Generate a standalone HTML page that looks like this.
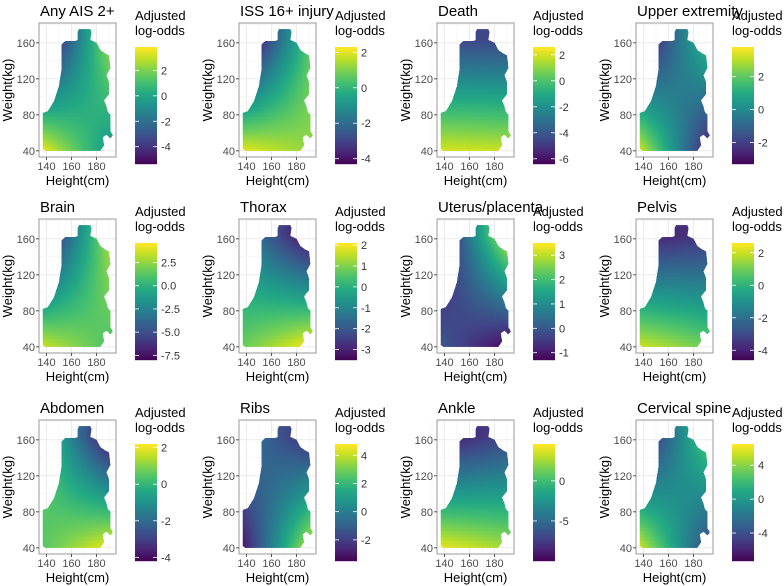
<!DOCTYPE html>
<html><head><meta charset="utf-8"><style>
html,body{margin:0;padding:0;background:#fff;}
svg{display:block;font-family:"Liberation Sans",sans-serif;}
</style></head><body>
<svg id="fig" width="784" height="586" viewBox="0 0 784 586" xmlns="http://www.w3.org/2000/svg"></svg>
<script>
const titles = ["Any AIS 2+","ISS 16+ injury","Death","Upper extremity","Brain","Thorax","Uterus/placenta","Pelvis","Abdomen","Ribs","Ankle","Cervical spine"];
const cbMin = [-5.36,-4.3,-6.4,-3.3,-8.0,-3.5,-1.3,-4.6,-4.2,-3.5,-10,-7.3];
const cbMax = [3.84,2.3,2.6,3.8,4.6,2.1,3.5,2.6,2.2,4.8,4.6,6.5];
const cbTicks = [[2,0,-2,-4],[2,0,-2,-4],[2,0,-2,-4,-6],[2,0,-2],[2.5,0,-2.5,-5,-7.5],[2,1,0,-1,-2,-3],[3,2,1,0,-1],[2,0,-2,-4],[2,0,-2,-4],[4,2,0,-2],[0,-5],[4,0,-4]];
const cbTickLabels = [["2","0","-2","-4"],["2","0","-2","-4"],["2","0","-2","-4","-6"],["2","0","-2"],["2.5","0.0","-2.5","-5.0","-7.5"],["2","1","0","-1","-2","-3"],["3","2","1","0","-1"],["2","0","-2","-4"],["2","0","-2","-4"],["4","2","0","-2"],["0","-5"],["4","0","-4"]];
// corner values: bottom-left, bottom-right, top-left, top-right
const valBL = [3.5,2.0,2.0,3.3,3.5,0.8,0.0,2.0,0.5,-3.0,4.0,5.5];
const valBR = [-0.5,1.2,1.8,-2.5,1.0,2.0,-1.2,1.0,2.0,4.0,2.5,-4.0];
const valTL = [-6.0,-5.0,-4.5,-3.5,-8.0,-1.0,-1.3,-4.0,0.5,0.0,-9.0,-7.0];
const valTR = [2.5,0.5,-4.5,1.5,3.0,-3.4,3.2,-3.5,-4.0,-2.5,-7.0,3.0];
const xTicks = [140,160,180];
const yTicks = [40,80,120,160];

const NS="http://www.w3.org/2000/svg";
const fig=document.getElementById('fig');
const viridis=["#440154","#482475","#414487","#355f8d","#2a788e","#21918c","#22a884","#44bf70","#7ad151","#bddf26","#fde725"];
function hex(c){return [parseInt(c.substr(1,2),16),parseInt(c.substr(3,2),16),parseInt(c.substr(5,2),16)];}
const vs=viridis.map(hex);
function vir(t){t=Math.max(0,Math.min(1,t));const p=t*(vs.length-1);const i=Math.min(vs.length-2,Math.floor(p));const f=p-i;const a=vs[i],b=vs[i+1];return `rgb(${Math.round(a[0]+(b[0]-a[0])*f)},${Math.round(a[1]+(b[1]-a[1])*f)},${Math.round(a[2]+(b[2]-a[2])*f)})`;}
function mk(tag,attrs,parent){const e=document.createElementNS(NS,tag);for(const k in attrs)e.setAttribute(k,attrs[k]);(parent||fig).appendChild(e);return e;}
const colOff=[0,200,398,597], rowOff=[0,196,397];
const shape=[[137,42],[137,82],[141,84],[146,95],[150,112],[152,130],[152,158],[155,162],[163,162],[165,163],[165,172],[166,175],[175,175],[176,172],[175,163],[177,162],[180,160],[183,152],[187,148],[190,146],[191,132],[188,124],[190,116],[190,103],[186,96],[188,89],[189,83],[191,80],[191,62],[193,57],[191,54],[188,58],[185,55],[186,46],[183,40],[139,40]];
const defs=mk('defs',{});
for(let p=0;p<12;p++){
  const ox=colOff[p%4], oy=rowOff[Math.floor(p/4)];
  const L=ox+39, T=oy+23, W=77, H=134;
  const X=h=>L+(h-134)*1.25, Y=w=>T+(182-w)*0.9;
  const g=mk('g',{});  
  const t=mk('text',{x:ox+40,y:oy+16,'font-size':'15','fill':'#000'},g); t.textContent=titles[p];
   
  const bg=mk('rect',{x:L,y:T,width:W,height:H,fill:'#fff'},g);
   
  for(const h of [130,150,170,190]){mk('line',{x1:X(h),x2:X(h),y1:T,y2:T+H,stroke:'#f2f2f2','stroke-width':0.6},g);}
  for(const h of xTicks){mk('line',{x1:X(h),x2:X(h),y1:T,y2:T+H,stroke:'#ebebeb','stroke-width':1},g);}
  for(const w of [60,100,140,180]){mk('line',{x1:L,x2:L+W,y1:Y(w),y2:Y(w),stroke:'#f2f2f2','stroke-width':0.6},g);}
  for(const w of yTicks){mk('line',{x1:L,x2:L+W,y1:Y(w),y2:Y(w),stroke:'#ebebeb','stroke-width':1},g);}
  const cp=mk('clipPath',{id:'clip'+p},defs);
  mk('polygon',{points:shape.map(s=>X(s[0]).toFixed(1)+','+Y(s[1]).toFixed(1)).join(' ')},cp);
  const hm=mk('g',{'clip-path':`url(#clip${p})`,'shape-rendering':'crispEdges'},g);
   
  const range=cbMax[p]-cbMin[p];
  for(let h=136;h<195;h+=1.6){
    for(let w=38;w<178;w+=2.5){
      const u=Math.max(0,Math.min(1,(h+0.8-137)/53)), v=Math.max(0,Math.min(1,(w+1.25-42)/123));
      const val=valBL[p]*(1-u)*(1-v)+valBR[p]*u*(1-v)+valTL[p]*(1-u)*v+valTR[p]*u*v;
      const r=mk('rect',{x:X(h).toFixed(2),y:Y(w+2.5).toFixed(2),width:2.8,height:3.2,fill:vir((val-cbMin[p])/range)},hm);
       
    }
  }
  mk('rect',{x:L,y:T,width:W,height:H,fill:'none',stroke:'#9a9a9a','stroke-width':1},g);
  for(const h of xTicks){
    mk('line',{x1:X(h),x2:X(h),y1:T+H,y2:T+H+3,stroke:'#555'},g);
    const tl=mk('text',{x:X(h),y:T+H+13,'font-size':'11','fill':'#4d4d4d','text-anchor':'middle'},g); tl.textContent=h;
     
  }
  for(const w of yTicks){
    mk('line',{x1:L-3,x2:L,y1:Y(w),y2:Y(w),stroke:'#555'},g);
    const tl=mk('text',{x:L-4,y:Y(w)+4,'font-size':'11','fill':'#4d4d4d','text-anchor':'end'},g); tl.textContent=w;
     
  }
  const xt=mk('text',{x:L+W/2,y:T+H+28,'font-size':'13','fill':'#000','text-anchor':'middle'},g); xt.textContent='Height(cm)';
   
  const yt=mk('text',{x:0,y:0,'font-size':'13','fill':'#000','text-anchor':'middle',transform:`translate(${ox+12},${T+H/2}) rotate(-90)`},g); yt.textContent='Weight(kg)';
   
  const cbx=ox+135, cby=oy+47, cbh=117, cbw=22;
  const lt1=mk('text',{x:cbx,y:oy+20,'font-size':'13','fill':'#000'},g); lt1.textContent='Adjusted';
   
  const lt2=mk('text',{x:cbx,y:oy+35,'font-size':'13','fill':'#000'},g); lt2.textContent='log-odds';
   
  const cb=mk('g',{},g);  
  for(let i=0;i<cbh;i++){mk('rect',{x:cbx,y:cby+i,width:cbw,height:1.2,fill:vir(1-i/cbh)},cb);}
  cbTicks[p].forEach((tv,i)=>{
    const yy=cby+(cbMax[p]-tv)/range*cbh;
    mk('line',{x1:cbx,x2:cbx+4,y1:yy,y2:yy,stroke:'#fff','stroke-width':0.8},cb);
    mk('line',{x1:cbx+cbw-4,x2:cbx+cbw,y1:yy,y2:yy,stroke:'#fff','stroke-width':0.8},cb);
    const tl=mk('text',{x:cbx+cbw+4,y:yy+4,'font-size':'11','fill':'#333'},cb); tl.textContent=cbTickLabels[p][i];
     
  });
}
</script>
</body></html>
